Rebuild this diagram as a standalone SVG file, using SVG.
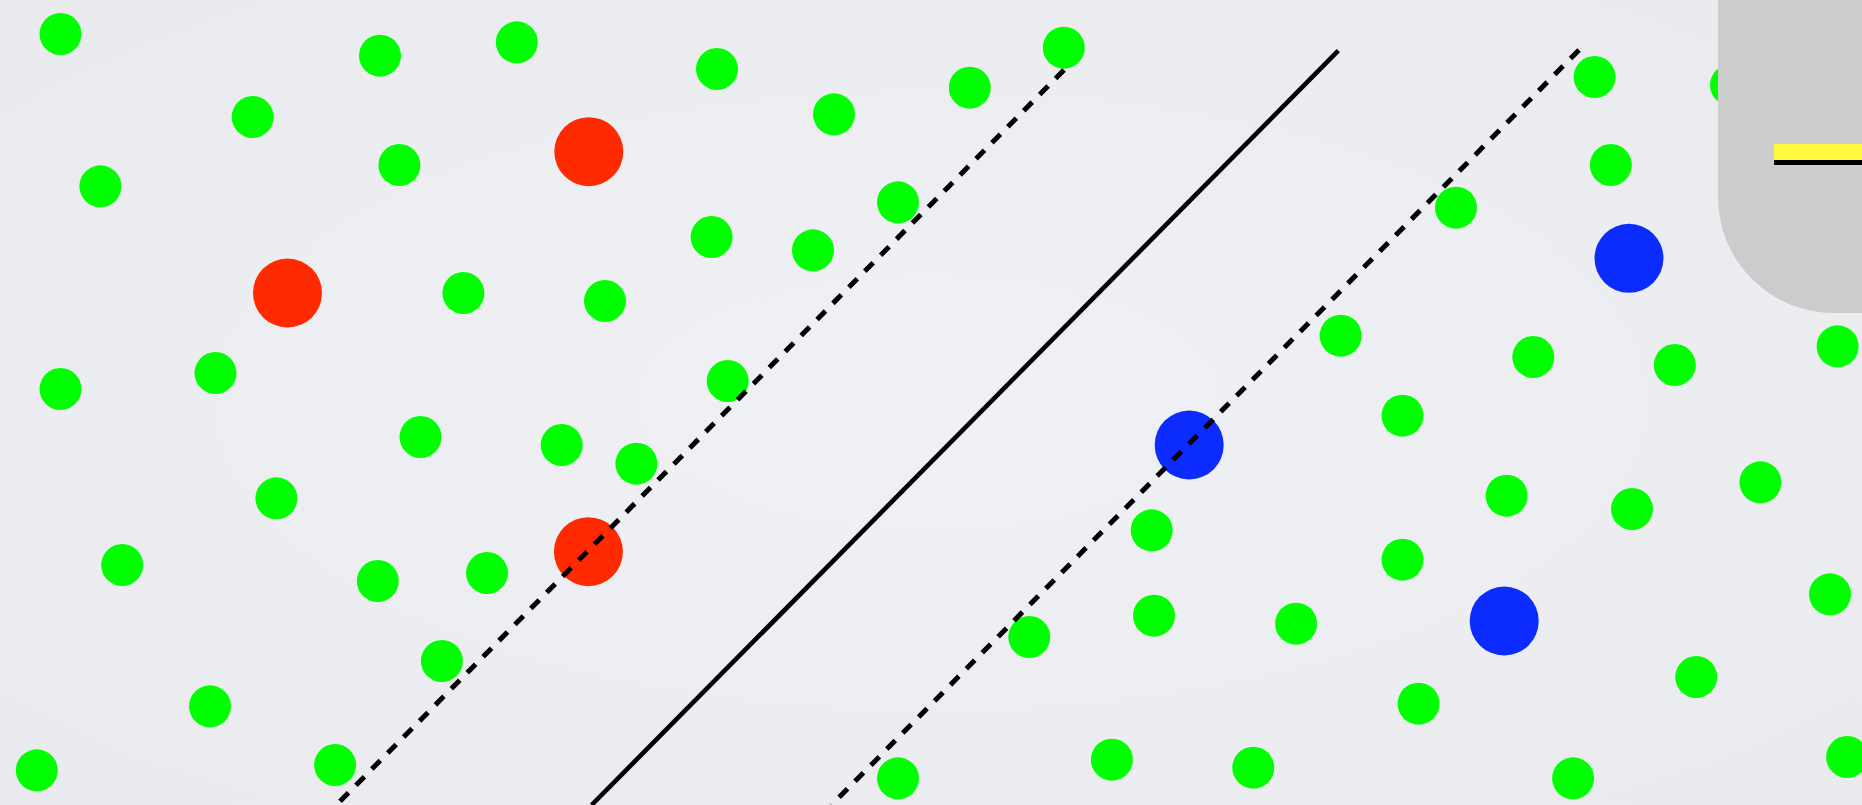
<svg xmlns="http://www.w3.org/2000/svg" width="1862" height="805" viewBox="0 0 1862 805">
<defs>
<radialGradient id="bg" cx="0.5" cy="0.5" r="0.75">
<stop offset="0" stop-color="#f0f1f4"/>
<stop offset="1" stop-color="#e9eaed"/>
</radialGradient>
<style>
.g{fill:#00ff00}
.r{fill:#ff2a00}
.b{fill:#0c2cff}
.solid{stroke:#000;stroke-width:4.6;fill:none}
.dash{stroke:#000;stroke-width:5;fill:none;stroke-dasharray:12 10.6}
</style>
</defs>
<rect x="0" y="0" width="1862" height="805" fill="url(#bg)"/>
<g id="points">
<g id="g1"><circle class="g" cx="60.5" cy="34" r="21"/></g>
<g id="g2"><circle class="g" cx="380" cy="55.7" r="21"/></g>
<g id="g3"><circle class="g" cx="516.8" cy="42.3" r="21"/></g>
<g id="g4"><circle class="g" cx="252.7" cy="117" r="21"/></g>
<g id="g5"><circle class="g" cx="100.4" cy="186.3" r="21"/></g>
<g id="g6"><circle class="g" cx="399.4" cy="165" r="21"/></g>
<g id="g7"><circle class="g" cx="717" cy="69" r="21"/></g>
<g id="g8"><circle class="g" cx="834" cy="114.3" r="21"/></g>
<g id="g9"><circle class="g" cx="969.8" cy="87.7" r="21"/></g>
<g id="g10"><circle class="g" cx="1063.8" cy="47.7" r="21"/></g>
<g id="g11"><circle class="g" cx="898" cy="202.3" r="21"/></g>
<g id="g12"><circle class="g" cx="711.6" cy="237" r="21"/></g>
<g id="g13"><circle class="g" cx="813" cy="250.3" r="21"/></g>
<g id="g14"><circle class="g" cx="463.4" cy="293" r="21"/></g>
<g id="g15"><circle class="g" cx="605" cy="301" r="21"/></g>
<g id="g16"><circle class="g" cx="60.5" cy="389" r="21"/></g>
<g id="g17"><circle class="g" cx="215.5" cy="373" r="21"/></g>
<g id="g18"><circle class="g" cx="727.7" cy="381" r="21"/></g>
<g id="g19"><circle class="g" cx="420.5" cy="437" r="21"/></g>
<g id="g20"><circle class="g" cx="561.7" cy="445" r="21"/></g>
<g id="g21"><circle class="g" cx="636.4" cy="463.7" r="21"/></g>
<g id="g22"><circle class="g" cx="276.4" cy="498.3" r="21"/></g>
<g id="g23"><circle class="g" cx="122.2" cy="565" r="21"/></g>
<g id="g24"><circle class="g" cx="377.8" cy="581" r="21"/></g>
<g id="g25"><circle class="g" cx="487" cy="573" r="21"/></g>
<g id="g26"><circle class="g" cx="441.9" cy="661" r="21"/></g>
<g id="g27"><circle class="g" cx="210" cy="706.3" r="21"/></g>
<g id="g28"><circle class="g" cx="36.8" cy="770.3" r="21"/></g>
<g id="g29"><circle class="g" cx="335.1" cy="765" r="21"/></g>
<g id="g30"><circle class="g" cx="898" cy="778.3" r="21"/></g>
<g id="g31"><circle class="g" cx="1029.3" cy="637" r="21"/></g>
<g id="g32"><circle class="g" cx="1151.7" cy="530.3" r="21"/></g>
<g id="g33"><circle class="g" cx="1154" cy="615.7" r="21"/></g>
<g id="g34"><circle class="g" cx="1296.1" cy="623.7" r="21"/></g>
<g id="g35"><circle class="g" cx="1111.9" cy="759.7" r="21"/></g>
<g id="g36"><circle class="g" cx="1253.3" cy="767.7" r="21"/></g>
<g id="g37"><circle class="g" cx="1402.5" cy="559.7" r="21"/></g>
<g id="g38"><circle class="g" cx="1418.6" cy="703.7" r="21"/></g>
<g id="g39"><circle class="g" cx="1573.1" cy="778.3" r="21"/></g>
<g id="g40"><circle class="g" cx="1506.6" cy="495.7" r="21"/></g>
<g id="g41"><circle class="g" cx="1632" cy="509" r="21"/></g>
<g id="g42"><circle class="g" cx="1760.4" cy="482.3" r="21"/></g>
<g id="g43"><circle class="g" cx="1696.2" cy="677" r="21"/></g>
<g id="g44"><circle class="g" cx="1830" cy="594.3" r="21"/></g>
<g id="g45"><circle class="g" cx="1847.1" cy="757" r="21"/></g>
<g id="g46"><circle class="g" cx="1402.5" cy="415.7" r="21"/></g>
<g id="g47"><circle class="g" cx="1340.7" cy="335.7" r="21"/></g>
<g id="g48"><circle class="g" cx="1533.3" cy="357" r="21"/></g>
<g id="g49"><circle class="g" cx="1674.8" cy="365" r="21"/></g>
<g id="g50"><circle class="g" cx="1837.6" cy="346.3" r="21"/></g>
<g id="g51"><circle class="g" cx="1456" cy="207.7" r="21"/></g>
<g id="g52"><circle class="g" cx="1610.8" cy="165" r="21"/></g>
<g id="g53"><circle class="g" cx="1594.6" cy="77" r="21"/></g>
<g id="g54"><circle class="g" cx="1731" cy="85" r="21"/></g>
<g id="r1"><circle class="r" cx="588.8" cy="151.7" r="34.5"/></g>
<g id="r2"><circle class="r" cx="287.5" cy="293" r="34.5"/></g>
<g id="r3"><circle class="r" cx="588.4" cy="551.7" r="34.5"/></g>
<g id="b1"><circle class="b" cx="1629" cy="258.3" r="34.5"/></g>
<g id="b2"><circle class="b" cx="1189.2" cy="445" r="34.5"/></g>
<g id="b3"><circle class="b" cx="1504.2" cy="621" r="34.5"/></g>
</g>
<g id="connectors">
<line class="solid" x1="1338.3" y1="50.7" x2="591.6" y2="805"/>
<line class="dash" x1="1064" y1="70" x2="336.3" y2="805"/>
<line class="dash" x1="1579" y1="50" x2="831.5" y2="805"/>
</g>
<g id="panel">
<rect x="1718" y="-200" width="300" height="513" rx="116" fill="#cccccc"/>
<rect x="1774" y="144" width="90" height="16" fill="#fff83c"/>
<rect x="1774" y="160" width="90" height="5" fill="#000"/>
</g>
</svg>
